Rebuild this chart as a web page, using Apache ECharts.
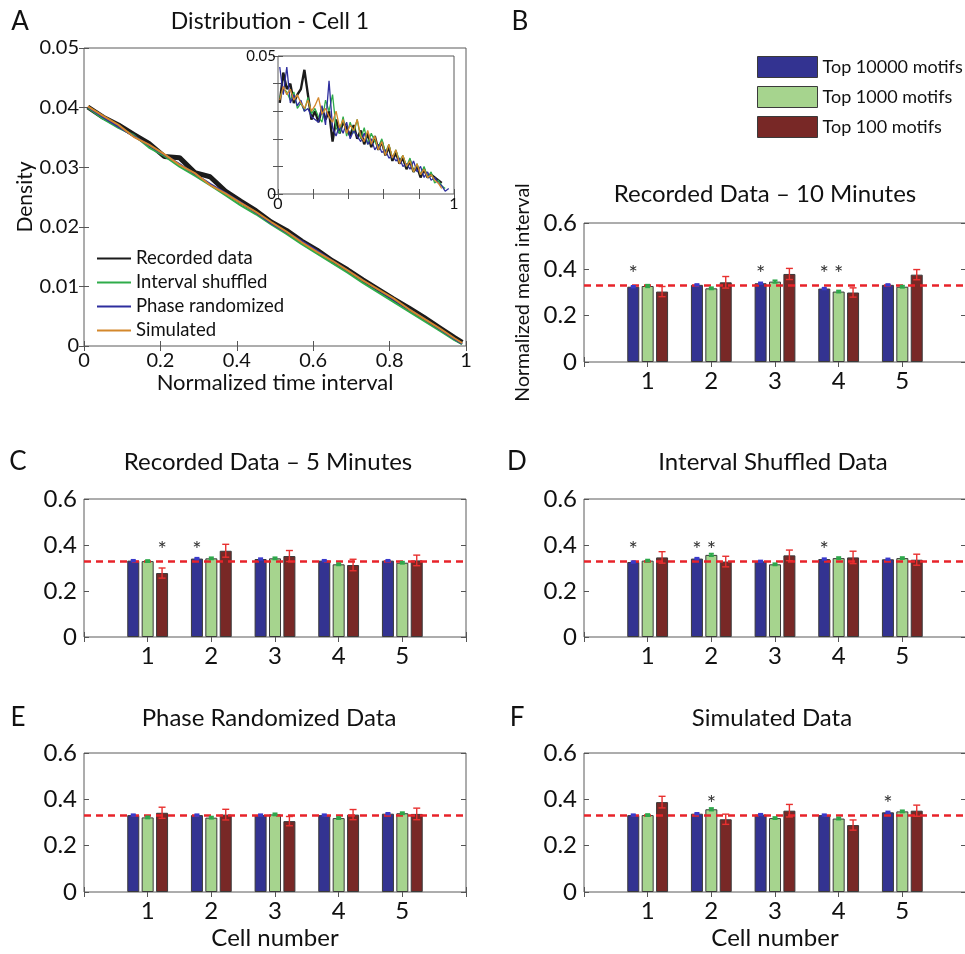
<!DOCTYPE html>
<html>
<head>
<meta charset="utf-8">
<script src="https://cdn.jsdelivr.net/npm/echarts@6/dist/echarts.min.js"></script>
<style>
html,body{margin:0;padding:0;background:#fff}
#chart{width:965px;height:954px}
</style>
</head>
<body>
<div id="chart"></div>
<script>
// ---- panel A: smoothed distributions (main axes)
const tMain = [0.01,0.05,0.09,0.13,0.17,0.21,0.25,0.29,0.33,0.37,0.41,0.45,0.49,0.53,0.57,0.61,0.65,0.69,0.73,0.77,0.81,0.85,0.89,0.93,0.97,0.99];
const recMain   = [0.0401,0.0384,0.0371,0.0355,0.0340,0.0318,0.0316,0.0291,0.0284,0.0260,0.0243,0.0227,0.0208,0.0194,0.0176,0.0161,0.0143,0.0128,0.0111,0.0095,0.0079,0.0064,0.0048,0.0031,0.0014,0.0006];
const shufMain  = [0.0400,0.0381,0.0366,0.0354,0.0333,0.0319,0.0301,0.0286,0.0270,0.0253,0.0236,0.0221,0.0204,0.0188,0.0171,0.0155,0.0139,0.0123,0.0106,0.0090,0.0074,0.0058,0.0042,0.0026,0.0010,0.0003];
const phaseMain = [0.0401,0.0384,0.0368,0.0352,0.0337,0.0321,0.0305,0.0289,0.0272,0.0257,0.0241,0.0224,0.0206,0.0191,0.0176,0.0160,0.0143,0.0127,0.0110,0.0094,0.0078,0.0062,0.0046,0.0029,0.0012,0.0004];
const simMain   = [0.0402,0.0386,0.0371,0.0351,0.0338,0.0322,0.0304,0.0290,0.0270,0.0256,0.0240,0.0225,0.0208,0.0192,0.0174,0.0158,0.0143,0.0127,0.0110,0.0095,0.0080,0.0062,0.0046,0.0030,0.0013,0.0005];

// ---- panel A inset: raw distributions
const tInset = [0.01,0.03,0.05,0.07,0.09,0.11,0.13,0.15,0.17,0.19,0.21,0.23,0.25,0.27,0.29,0.31,0.33,0.35,0.37,0.39,0.41,0.43,0.45,0.47,0.49,0.51,0.53,0.55,0.57,0.59,0.61,0.63,0.65,0.67,0.69,0.71,0.73,0.75,0.77,0.79,0.81,0.83,0.85,0.87,0.89,0.91,0.93,0.95,0.97];
const recInset   = [0.033,0.044,0.038,0.040,0.033,0.036,0.038,0.045,0.036,0.027,0.030,0.026,0.031,0.027,0.030,0.019,0.027,0.022,0.026,0.024,0.021,0.025,0.020,0.023,0.018,0.022,0.017,0.021,0.016,0.019,0.014,0.017,0.012,0.015,0.011,0.013,0.009,0.012,0.008,0.010,0.006,0.009,0.006,0.007,0.006,0.005,0.004];
const shufInset  = [0.035,0.038,0.037,0.034,0.037,0.031,0.033,0.030,0.035,0.029,0.031,0.028,0.026,0.034,0.030,0.036,0.024,0.022,0.028,0.021,0.026,0.022,0.027,0.020,0.024,0.018,0.022,0.019,0.017,0.020,0.015,0.018,0.013,0.016,0.012,0.014,0.010,0.013,0.008,0.011,0.007,0.010,0.006,0.008,0.004,0.005,0.003,0.002];
const phaseInset = [0.046,0.036,0.046,0.033,0.036,0.032,0.034,0.030,0.031,0.028,0.027,0.026,0.032,0.025,0.041,0.024,0.021,0.025,0.022,0.026,0.020,0.023,0.021,0.019,0.022,0.018,0.020,0.016,0.018,0.015,0.016,0.013,0.014,0.012,0.013,0.010,0.011,0.009,0.012,0.008,0.010,0.006,0.008,0.005,0.006,0.004,0.003,0.001,0.002];
const simInset   = [0.034,0.039,0.036,0.038,0.034,0.036,0.033,0.031,0.034,0.030,0.032,0.035,0.029,0.031,0.028,0.026,0.030,0.024,0.027,0.022,0.025,0.023,0.027,0.021,0.019,0.023,0.018,0.021,0.016,0.019,0.014,0.018,0.013,0.016,0.011,0.014,0.010,0.012,0.008,0.011,0.007,0.009,0.006,0.007,0.005,0.004,0.002];

// ---- bar panels: normalized mean interval per cell
const cells = ['1','2','3','4','5'];
const CHANCE = 0.3333;
const STAR_Y = 0.4;

const rec10_t10000 = [0.325,0.333,0.340,0.317,0.333];
const rec10_t1000  = [0.328,0.318,0.347,0.304,0.325];
const rec10_t100   = [0.304,0.344,0.380,0.300,0.377];
const rec10_e10000 = [0.003,0.003,0.003,0.003,0.003];
const rec10_e1000  = [0.005,0.004,0.005,0.004,0.004];
const rec10_e100   = [0.022,0.025,0.024,0.020,0.022];
const rec10_stars  = [[1,0],[3,0],[4,0],[4,1]];

const rec5_t10000 = [0.332,0.341,0.339,0.332,0.332];
const rec5_t1000  = [0.330,0.342,0.342,0.316,0.323];
const rec5_t100   = [0.278,0.375,0.352,0.313,0.333];
const rec5_e10000 = [0.003,0.003,0.003,0.003,0.003];
const rec5_e1000  = [0.004,0.004,0.004,0.004,0.004];
const rec5_e100   = [0.022,0.028,0.024,0.025,0.023];
const rec5_stars  = [[1,2],[2,0]];

const shuf_t10000 = [0.326,0.341,0.329,0.339,0.338];
const shuf_t1000  = [0.332,0.357,0.316,0.343,0.343];
const shuf_t100   = [0.346,0.328,0.355,0.346,0.336];
const shuf_e10000 = [0.003,0.003,0.003,0.003,0.003];
const shuf_e1000  = [0.004,0.005,0.004,0.004,0.004];
const shuf_e100   = [0.025,0.023,0.023,0.027,0.024];
const shuf_stars  = [[1,0],[2,0],[2,1],[4,0]];

const phase_t10000 = [0.332,0.332,0.332,0.332,0.338];
const phase_t1000  = [0.322,0.321,0.335,0.319,0.340];
const phase_t100   = [0.342,0.334,0.306,0.334,0.337];
const phase_e10000 = [0.003,0.003,0.003,0.003,0.003];
const phase_e1000  = [0.004,0.004,0.004,0.004,0.004];
const phase_e100   = [0.024,0.023,0.020,0.022,0.025];
const phase_stars  = [];

const sim_t10000 = [0.332,0.338,0.334,0.332,0.344];
const sim_t1000  = [0.332,0.357,0.319,0.317,0.348];
const sim_t100   = [0.388,0.314,0.351,0.289,0.351];
const sim_e10000 = [0.003,0.003,0.003,0.003,0.003];
const sim_e1000  = [0.004,0.005,0.004,0.004,0.004];
const sim_e100   = [0.025,0.022,0.027,0.022,0.024];
const sim_stars  = [[2,1],[5,0]];

const NAMES_A = ['Recorded data','Interval shuffled','Phase randomized','Simulated'];
const NAMES_B = ['Top 10000 motifs','Top 1000 motifs','Top 100 motifs'];

// ---- styling
const FONT = 'Lato, "Open Sans", sans-serif';
const INK = '#111';
const LINE_COLORS = ['#1b1b1b','#2fac4a','#2e2e9e','#d4882c'];
const BAR_COLORS = ['#333391','#a6d48e','#782826'];
const ERR_COLORS = ['#3a3acb','#2da84a','#e8302f'];
const BAR_STEP = 14.4;   // px between bar centres in a group
const TICK = {show:true, inside:true, length:5, lineStyle:{color:'#555'}};

const chart = echarts.init(document.getElementById('chart'), null, {renderer:'canvas'});

const grids = [
  {left:84,  top:48,  width:382, height:298},  // A
  {left:278, top:56,  width:176, height:138},  // A inset
  {left:584, top:223, width:382, height:139},  // B
  {left:84,  top:499, width:382, height:138},  // C
  {left:584, top:499, width:382, height:138},  // D
  {left:84,  top:753, width:382, height:139},  // E
  {left:584, top:753, width:382, height:139}   // F
].map(g => Object.assign(g, {show:true, borderColor:'#5a5a5a', borderWidth:1, backgroundColor:'#fff', outerBoundsMode:'none', containLabel:false}));

const xAxes = [], yAxes = [];
function addAxes(gi, xCfg, yCfg) {
  const baseX = {gridIndex:gi, axisLine:{show:false}, axisTick:TICK, splitLine:{show:false}};
  xAxes.push(Object.assign({}, baseX, xCfg, {position:'bottom'}));
  xAxes.push(Object.assign({}, baseX, xCfg, {position:'top', axisLabel:{show:false}, name:''}));
  const baseY = {gridIndex:gi, axisLine:{show:false}, axisTick:TICK, splitLine:{show:false}};
  yAxes.push(Object.assign({}, baseY, yCfg, {position:'left'}));
  yAxes.push(Object.assign({}, baseY, yCfg, {position:'right', axisLabel:{show:false}, name:''}));
  return {x: xAxes.length - 2, y: yAxes.length - 2};
}
const lbl = (size, margin, extra) => Object.assign({fontSize:size, margin:margin, color:INK, fontFamily:FONT}, extra || {});
const nameStyle = size => ({fontSize:size, color:INK, fontFamily:FONT});
const near = (a, b) => Math.abs(a - b) < 1e-9;

// A main
const axA = addAxes(0,
  {type:'value', min:0, max:1, interval:0.2, axisLabel:lbl(20, 5),
   name:'Normalized time interval', nameLocation:'middle', nameGap:26, nameTextStyle:nameStyle(22)},
  {type:'value', min:0, max:0.05, interval:0.01, axisLabel:lbl(20, 5),
   name:'Density', nameLocation:'middle', nameGap:43, nameTextStyle:nameStyle(21)});
// A inset
const axI = addAxes(1,
  {type:'value', min:0, max:1, interval:0.2,
   axisLabel:lbl(16, 2, {formatter: v => (near(v,0) ? '0' : near(v,1) ? '1' : '')})},
  {type:'value', min:0, max:0.05, interval:0.01,
   axisLabel:lbl(15, 2, {formatter: v => (near(v,0) ? '0' : near(v,0.05) ? '0.05' : '')})});

const CAT_AXIS = [''].concat(cells, [' ']);
function barAxes(gi, yName, xName) {
  return addAxes(gi,
    {type:'category', data:CAT_AXIS, boundaryGap:false, axisTick:Object.assign({}, TICK, {interval:0}),
     axisLabel:lbl(24, 7, {interval:0}),
     name:xName || '', nameLocation:'middle', nameGap:34, nameTextStyle:nameStyle(24)},
    {type:'value', min:0, max:0.6, interval:0.2, axisLabel:lbl(24, 7),
     name:yName || '', nameLocation:'middle', nameGap:51, nameTextStyle:nameStyle(19.5)});
}

const series = [];
// main A lines
[recMain, shufMain, phaseMain, simMain].forEach((arr, i) => {
  series.push({name:NAMES_A[i], type:'line', xAxisIndex:axA.x, yAxisIndex:axA.y,
    data: tMain.map((t, k) => [t, arr[k]]), symbol:'none', smooth:false,
    lineStyle:{width: i === 0 ? 5 : 2, color:LINE_COLORS[i]}, itemStyle:{color:LINE_COLORS[i]},
    z: 2 + i, silent:true});
});
// inset lines
[recInset, shufInset, phaseInset, simInset].forEach((arr, i) => {
  series.push({name:NAMES_A[i], type:'line', xAxisIndex:axI.x, yAxisIndex:axI.y,
    data: arr.map((v, k) => [tInset[k], v]), symbol:'none',
    lineStyle:{width: i === 0 ? 2.4 : 1.3, color:LINE_COLORS[i]}, itemStyle:{color:LINE_COLORS[i]},
    z: 2 + i, silent:true});
});

function errRender(params, api) {
  const g = api.value(3);
  const off = (g - 1) * BAR_STEP;
  const hi = api.coord([api.value(0), api.value(1) + api.value(2)]);
  const lo = api.coord([api.value(0), api.value(1) - api.value(2)]);
  const x = hi[0] + off, w = g === 2 ? 3.5 : 2.5;
  const st = {stroke:ERR_COLORS[g], lineWidth: g === 2 ? 1.4 : 2};
  return {type:'group', children:[
    {type:'line', shape:{x1:x, y1:hi[1], x2:x, y2:lo[1]}, style:st},
    {type:'line', shape:{x1:x - w, y1:hi[1], x2:x + w, y2:hi[1]}, style:st},
    {type:'line', shape:{x1:x - w, y1:lo[1], x2:x + w, y2:lo[1]}, style:st}
  ]};
}
function starRender(params, api) {
  const p = api.coord([api.value(0), api.value(2)]);
  return {type:'text', x: p[0] + (api.value(1) - 1) * BAR_STEP, y: p[1] + 5,
    style:{text:'*', fill:'#333', font:'22px ' + FONT, align:'center', verticalAlign:'middle'}};
}

function barPanel(gi, means, errs, stars, yName, xName) {
  const ax = barAxes(gi, yName, xName);
  means.forEach((arr, g) => {
    const s = {name:NAMES_B[g], type:'bar', xAxisIndex:ax.x, yAxisIndex:ax.y,
      data: arr.map((v, k) => [k + 1, v]), barWidth:12, barGap:'20%',
      itemStyle:{color:BAR_COLORS[g], borderColor:'#3a3a3a', borderWidth:1}, silent:true, z:2};
    if (g === 0) {
      s.markLine = {silent:true, symbol:['none','none'], label:{show:false}, animation:false,
        lineStyle:{color:'#e8232a', width:2.6, type:[7,5]}, data:[{yAxis:CHANCE}]};
    }
    series.push(s);
  });
  const errData = [];
  means.forEach((arr, g) => arr.forEach((v, k) => errData.push([k + 1, v, errs[g][k], g])));
  series.push({type:'custom', xAxisIndex:ax.x, yAxisIndex:ax.y, renderItem:errRender,
    data:errData, z:10, silent:true});
  if (stars.length) {
    series.push({type:'custom', xAxisIndex:ax.x, yAxisIndex:ax.y, renderItem:starRender,
      data:stars.map(s => [s[0], s[1], STAR_Y]), z:10, silent:true});
  }
}

barPanel(2, [rec10_t10000, rec10_t1000, rec10_t100], [rec10_e10000, rec10_e1000, rec10_e100], rec10_stars, 'Normalized mean interval');
barPanel(3, [rec5_t10000, rec5_t1000, rec5_t100], [rec5_e10000, rec5_e1000, rec5_e100], rec5_stars);
barPanel(4, [shuf_t10000, shuf_t1000, shuf_t100], [shuf_e10000, shuf_e1000, shuf_e100], shuf_stars);
barPanel(5, [phase_t10000, phase_t1000, phase_t100], [phase_e10000, phase_e1000, phase_e100], phase_stars, '', 'Cell number');
barPanel(6, [sim_t10000, sim_t1000, sim_t100], [sim_e10000, sim_e1000, sim_e100], sim_stars, '', 'Cell number');

const texts = [
  ['A', 20, 22, 26], ['Distribution - Cell 1', 270, 22, 23],
  ['B', 520, 22, 26], ['Recorded Data \u2013 10 Minutes', 765, 194, 24],
  ['C', 18, 462, 26], ['Recorded Data \u2013 5 Minutes', 268, 462, 24],
  ['D', 517, 462, 26], ['Interval Shuffled Data', 773, 462, 24],
  ['E', 18, 718, 26], ['Phase Randomized Data', 269, 718, 24],
  ['F', 517, 718, 26], ['Simulated Data', 772, 718, 24]
];

chart.setOption({
  animation:false,
  backgroundColor:'#fff',
  textStyle:{fontFamily:FONT},
  grid:grids,
  xAxis:xAxes,
  yAxis:yAxes,
  legend:[
    {data:NAMES_A, orient:'vertical', left:96, top:249, padding:0, itemWidth:34, itemHeight:14, itemGap:5,
     selectedMode:false, itemStyle:{opacity:0, borderWidth:0},
     textStyle:{fontSize:18.5, color:INK, fontFamily:FONT}},
    {data:NAMES_B, orient:'vertical', left:757, top:56, padding:0, itemWidth:60, itemHeight:21, itemGap:8, icon:'rect',
     selectedMode:false, textStyle:{fontSize:18, color:INK, fontFamily:FONT},
     itemStyle:{borderColor:'#3a3a3a', borderWidth:1}}
  ],
  graphic: texts.map(t => ({type:'text', x:t[1], y:t[2], silent:true,
    style:{text:t[0], fill:INK, font:t[3] + 'px ' + FONT, align:'center', verticalAlign:'middle'}})),
  series:series
});
window.addEventListener('resize', () => chart.resize());
</script>
</body>
</html>
